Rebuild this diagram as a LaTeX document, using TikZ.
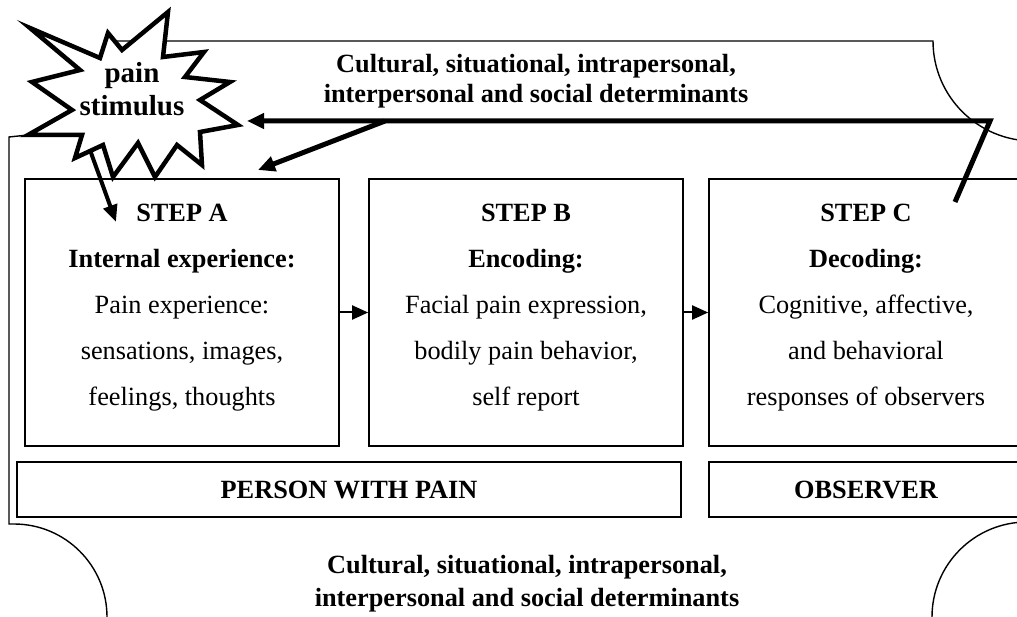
\documentclass[tikz,border=0pt]{standalone}
\usepackage{fontspec}
\setmainfont{Liberation Serif}
\usetikzlibrary{arrows.meta,calc}
\begin{document}
\begin{tikzpicture}[x=1pt,y=-1pt,
  frame/.style={line width=1.4pt},
  stepbox/.style={draw,line width=1.7pt,minimum width=314pt,minimum height=267pt,inner sep=0pt},
  rolebox/.style={draw,line width=1.7pt,minimum height=55pt,inner sep=0pt,font=\fontsize{26.3}{30}\selectfont\bfseries},
  boxtext/.style={align=center,font=\fontsize{26.3}{46}\selectfont},
  det/.style={align=center,font=\fontsize{26.3}{30}\selectfont\bfseries},
  detlow/.style={align=center,font=\fontsize{26.3}{33}\selectfont\bfseries},
  bigarrow/.style={line width=5pt,line join=miter,-{Triangle[length=17pt,width=15pt]}},
  smallarrow/.style={line width=2pt,-{Triangle[length=16pt,width=14pt]}},
  stararrow/.style={line width=4pt,-{Triangle[length=17pt,width=14pt]}},
]
\useasboundingbox (0,0) rectangle (1017,617);
\clip (0,0) rectangle (1017,617);

% outer frame
\draw[frame] (28,135) -- (9,137) -- (9,524) -- (14,524) arc[start angle=90,end angle=0,radius=93pt];
\draw[frame] (117,41) -- (933,41) arc[start angle=180,end angle=270,radius=100pt];
\draw[frame] (932,617) arc[start angle=180,end angle=90,radius=95pt];

% step boxes
\node[stepbox] (boxA) at (182,312.5) {};
\node[stepbox] (boxB) at (526,312.5) {};
\node[stepbox] (boxC) at (866,312.5) {};

\node[boxtext,yshift=4.6pt] (tA) at (boxA.center) {\textbf{STEP A}\\\textbf{Internal experience:}\\Pain experience:\\sensations, images,\\feelings, thoughts};
\node[boxtext,yshift=4.6pt] (tB) at (boxB.center) {\textbf{STEP B}\\\textbf{Encoding:}\\Facial pain expression,\\bodily pain behavior,\\self report};
\node[boxtext,yshift=4.6pt] (tC) at (boxC.center) {\textbf{STEP C}\\\textbf{Decoding:}\\Cognitive, affective,\\and behavioral\\responses of observers};

% role boxes
\node[rolebox,minimum width=664pt] (person) at (349,489.5) {PERSON WITH PAIN};
\node[rolebox,minimum width=314pt] (observer) at (866,489.5) {OBSERVER};

% arrows between steps
\draw[smallarrow] (boxA.east) -- (boxB.west);
\draw[smallarrow] (boxB.east) -- (boxC.west);

% determinant texts
\node[det] (topdet) at (536,81) {Cultural, situational, intrapersonal,\\interpersonal and social determinants};
\node[detlow] (botdet) at (527,583.5) {Cultural, situational, intrapersonal,\\interpersonal and social determinants};

% feedback arrows
\coordinate (cIn) at (955,202);
\coordinate (bend) at (990,121);
\coordinate (starR) at (247,121);
\coordinate (branch) at (385,121);
\coordinate (aTop) at (258,170);
\draw[bigarrow] (cIn) -- (bend) -- (starR);
\draw[bigarrow] (branch) -- (aTop);

% star
\draw[line width=4.5pt,fill=white,line join=miter]
  (168,12) -- (163,57) -- (204,52) -- (185,77) -- (230,82) -- (200,100)
  -- (238,125) -- (200,132) -- (202,165) -- (177,145) -- (155,177) -- (138,143)
  -- (113,177) -- (103,145) -- (75,158) -- (82,135) -- (28,135) -- (72,110)
  -- (32,82) -- (80,70) -- (30,28) -- (100,58) -- (108,33) -- (122,50) -- cycle;
\node[align=center,font=\fontsize{29}{33}\selectfont\bfseries] (pain) at (132,89.5) {pain\\stimulus};

\coordinate (starBot) at (90,150);
\coordinate (aIn) at (116,222);
\draw[stararrow] (starBot) -- (aIn);
\end{tikzpicture}
\end{document}
